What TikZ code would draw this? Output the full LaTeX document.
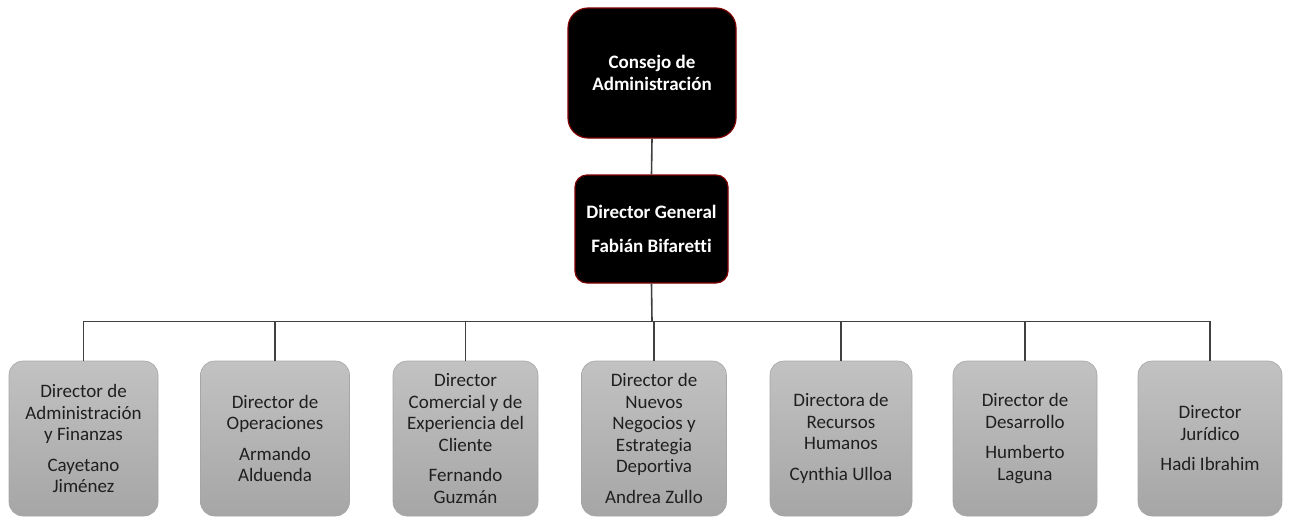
\documentclass[tikz,border=0pt]{standalone}
\usepackage{fontspec}
\setmainfont[Ligatures=NoCommon]{Carlito}
\begin{document}
\begin{tikzpicture}[x=1pt,y=-1pt,
  topbox/.style={draw=red!50!black, line width=1.2pt, fill=black, rounded corners=20pt,
    text=white, font=\fontsize{19}{22}\selectfont\bfseries, align=center, inner sep=0pt},
  gbox/.style={draw=gray!70, line width=0.6pt, rounded corners=14pt,
    top color=black!24, bottom color=black!35, text=black!88,
    font=\fontsize{19}{21.5}\selectfont, align=center, inner sep=0pt,
    minimum height=155pt},
  conn/.style={draw=black!75, line width=1.6pt}]
\useasboundingbox (0,0) rectangle (1300,517);
\node[topbox, minimum width=168pt, minimum height=130pt] (cons) at (652,73) {Consejo de\\Administración};
\node[topbox, rounded corners=12pt, minimum width=153pt, minimum height=108pt] (dg) at (651.5,229)
  {Director General\\[12pt]Fabián Bifaretti};
\coordinate (bus) at (652,321.5);
\node[gbox, minimum width=149pt] (b1) at (83.5,438.5) {Director de\\Administración\\y Finanzas\\[9pt]Cayetano\\Jiménez};
\node[gbox, minimum width=149pt] (b2) at (275,438.5) {Director de\\Operaciones\\[9pt]Armando\\Alduenda};
\node[gbox, minimum width=145pt] (b3) at (465.5,438.5) {Director\\Comercial y de\\Experiencia del\\Cliente\\[9pt]Fernando\\Guzmán};
\node[gbox, minimum width=145pt] (b4) at (654,438.5) {Director de\\Nuevos\\Negocios y\\Estrategia\\Deportiva\\[9pt]Andrea Zullo};
\node[gbox, minimum width=142pt] (b5) at (841,438.5) {Directora de\\Recursos\\Humanos\\[9pt]Cynthia Ulloa};
\node[gbox, minimum width=144pt] (b6) at (1025,438.5) {Director de\\Desarrollo\\[9pt]Humberto\\Laguna};
\node[gbox, minimum width=144pt] (b7) at (1210,438.5) {Director\\Jurídico\\[9pt]Hadi Ibrahim};
\draw[conn] (cons.south) -- (dg.north);
\draw[conn] (dg.south) -- (bus);
\draw[conn] (b1.north) -- (b1.north |- bus) -- (b7.north |- bus) -- (b7.north);
\foreach \b in {b2,b3,b4,b5,b6}{
  \draw[conn] (\b.north) -- (\b.north |- bus);
}
\end{tikzpicture}
\end{document}
